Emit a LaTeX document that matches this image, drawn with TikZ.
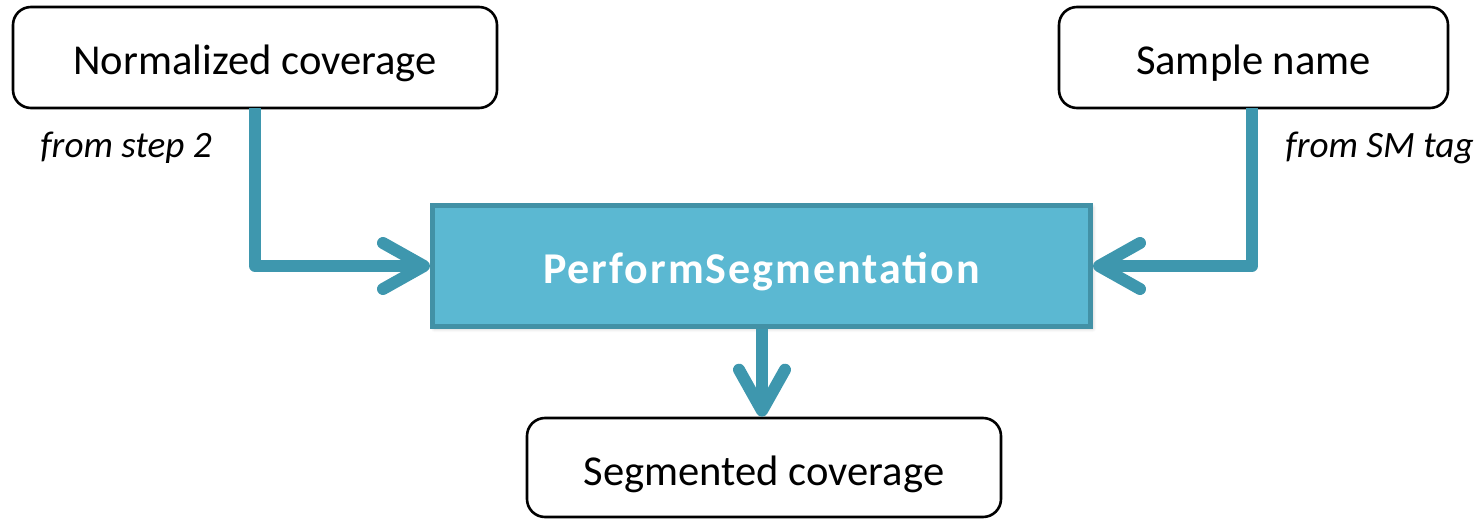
\documentclass[tikz,border=0pt]{standalone}
\usepackage{fontspec}
\setmainfont{Carlito}
\newfontfamily\taskfont[LetterSpace=4.5]{Carlito}
\usetikzlibrary{arrows.meta,shadows.blur}
\definecolor{flowline}{HTML}{3E97AE}
\definecolor{taskfill}{HTML}{5BB8D2}
\definecolor{taskedge}{HTML}{4291A6}
\tikzset{
  databox/.style={draw=black, line width=1.3pt, fill=white, rounded corners=9pt,
    font=\fontsize{21.3}{25}\selectfont, inner sep=0pt,
    text height=17pt, text depth=0pt},
  taskbox/.style={draw=taskedge, line width=2.5pt, fill=taskfill, text=white,
    font=\taskfont\fontsize{22}{26}\selectfont\bfseries, inner sep=0pt,
    text height=17pt, text depth=0pt,
    blur shadow={shadow blur steps=6, shadow xshift=1pt, shadow yshift=-1pt, shadow opacity=25}},
  flow/.style={draw=flowline, line width=6pt, line join=round, line cap=butt,
    -{Straight Barb[length=20.5pt,width=23pt,round]}},
  note/.style={font=\fontsize{18.6}{22}\selectfont\itshape, inner sep=0pt}
}
\begin{document}
\begin{tikzpicture}[x=0.5pt,y=-0.5pt]
  \useasboundingbox (0,0) rectangle (1484,519);
  % input and output data
  \node[databox, minimum width=242pt, minimum height=50.5pt] (norm) at (255,57.5) {Normalized coverage};
  \node[databox, minimum width=194.5pt, minimum height=50.5pt] (sample) at (1253.5,57.5) {Sample name};
  \node[databox, minimum width=237pt, minimum height=49.5pt, text height=18pt] (seg) at (764,467.5) {Segmented coverage};
  % processing step
  \node[taskbox, minimum width=329pt, minimum height=60.5pt] (task) at (761.5,266) {PerformSegmentation};
  % connectors
  \coordinate (ltap) at (255,108);
  \coordinate (rtap) at (1252,108);
  \draw[flow] (ltap) |- (task.west);
  \draw[flow] (rtap) |- (task.east);
  \draw[flow] (task.south -| 762,0) -- (seg.north -| 762,0);
  % source notes
  \node[note, anchor=base west] (n1) at (40,157) {from step 2};
  \node[note, anchor=base west] (n2) at (1285,157) {from SM tag};
\end{tikzpicture}
\end{document}
